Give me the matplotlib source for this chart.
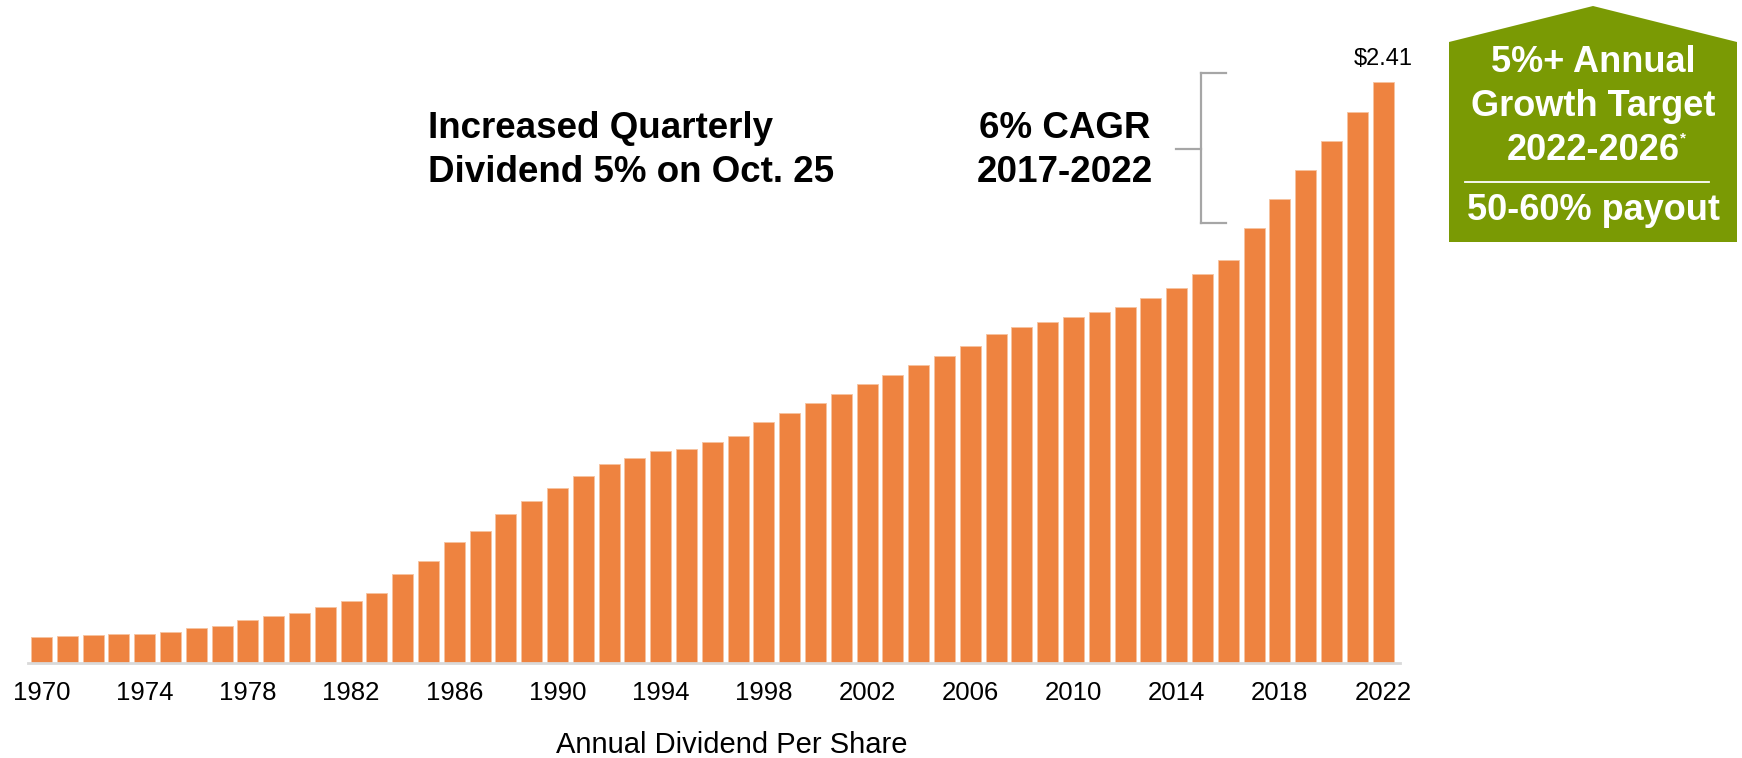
import matplotlib
matplotlib.use("Agg")
import matplotlib.pyplot as plt
from matplotlib.patches import Polygon
from matplotlib.lines import Line2D

years = list(range(1970, 2023))
dividends = [0.108, 0.112, 0.116, 0.120, 0.120, 0.129, 0.144, 0.155, 0.180, 0.195,
             0.209, 0.231, 0.257, 0.289, 0.370, 0.423, 0.503, 0.548, 0.619, 0.672,
             0.726, 0.778, 0.824, 0.850, 0.878, 0.890, 0.917, 0.943, 0.998, 1.037,
             1.077, 1.117, 1.156, 1.194, 1.235, 1.275, 1.315, 1.366, 1.395, 1.415,
             1.435, 1.456, 1.477, 1.516, 1.556, 1.615, 1.674, 1.805, 1.927, 2.045,
             2.168, 2.287, 2.41]
tick_years = [1970, 1974, 1978, 1982, 1986, 1990, 1994, 1998, 2002, 2006,
              2010, 2014, 2018, 2022]
last_label = "$2.41"

orange = "#EE8340"
green = "#7A9A04"
W, H = 1742, 758

plt.rcParams['font.family'] = ['Liberation Sans', 'DejaVu Sans']

fig = plt.figure(figsize=(W / 100, H / 100), dpi=100)


def fx(px):
    return px / W


def fy(py):
    return 1 - py / H


# main axes, placed in pixels
ax_left, ax_right, ax_bottom, ax_top = 28, 1400, 663, 0
ax = fig.add_axes([fx(ax_left), fy(ax_bottom), fx(ax_right - ax_left), (ax_bottom - ax_top) / H])
step = 25.8
x0 = 1970 - (41.5 - ax_left) / step
x1 = 1970 + (ax_right - 41.5) / step
ax.set_xlim(x0, x1)
ax.set_ylim(0, (ax_bottom - ax_top) / 241.0)

ax.bar(years, dividends, width=0.81, color=orange, edgecolor="#F6C3A0", linewidth=0.6)

ax.set_xticks(tick_years)
ax.set_xticklabels([str(y) for y in tick_years], fontsize=18.5)
ax.tick_params(axis='x', length=0, pad=13)
ax.set_yticks([])
for s in ['top', 'right', 'left']:
    ax.spines[s].set_visible(False)
ax.spines['bottom'].set_color("#D9D9D9")
ax.spines['bottom'].set_linewidth(2)

ax.annotate(last_label, (years[-1], dividends[-1]), xytext=(0, 17), textcoords='offset points',
            ha='center', va='center', fontsize=17)

fig.text(fx(732), fy(745), "Annual Dividend Per Share", ha='center', va='center', fontsize=21)

# headline texts
fig.text(fx(428), fy(128), "Increased Quarterly", ha='left', va='center', fontsize=26.5, fontweight='bold')
fig.text(fx(428), fy(172), "Dividend 5% on Oct. 25", ha='left', va='center', fontsize=26.5, fontweight='bold')
fig.text(fx(1065), fy(128), "6% CAGR", ha='center', va='center', fontsize=26.5, fontweight='bold')
fig.text(fx(1065), fy(172), "2017-2022", ha='center', va='center', fontsize=26.5, fontweight='bold')

# bracket
gray = "#A6A6A6"
for xs, ys in [([1201, 1201], [73, 223]), ([1201, 1226], [73, 73]),
               ([1201, 1226], [223, 223]), ([1176, 1201], [149, 149])]:
    fig.add_artist(Line2D([fx(v) for v in xs], [fy(v) for v in ys], color=gray, lw=1.6,
                          transform=fig.transFigure))

# green target box
pts = [(1449, 242), (1449, 42), (1593, 6), (1737, 42), (1737, 242)]
fig.add_artist(Polygon([(fx(a), fy(b)) for a, b in pts], closed=True, facecolor=green,
                       edgecolor='none', transform=fig.transFigure))
fig.add_artist(Line2D([fx(1465), fx(1709)], [fy(182), fy(182)], color='white', lw=1.3,
                      transform=fig.transFigure))
for txt, yy in [("5%+ Annual", 62), ("Growth Target", 107), ("2022-2026", 150), ("50-60% payout", 210)]:
    fig.text(fx(1593), fy(yy), txt, ha='center', va='center', color='white',
             fontsize=26, fontweight='bold')
fig.text(fx(1680), fy(138), "*", ha='left', va='center', color='white', fontsize=11, fontweight='bold')

fig.savefig("out.png", dpi=100)
